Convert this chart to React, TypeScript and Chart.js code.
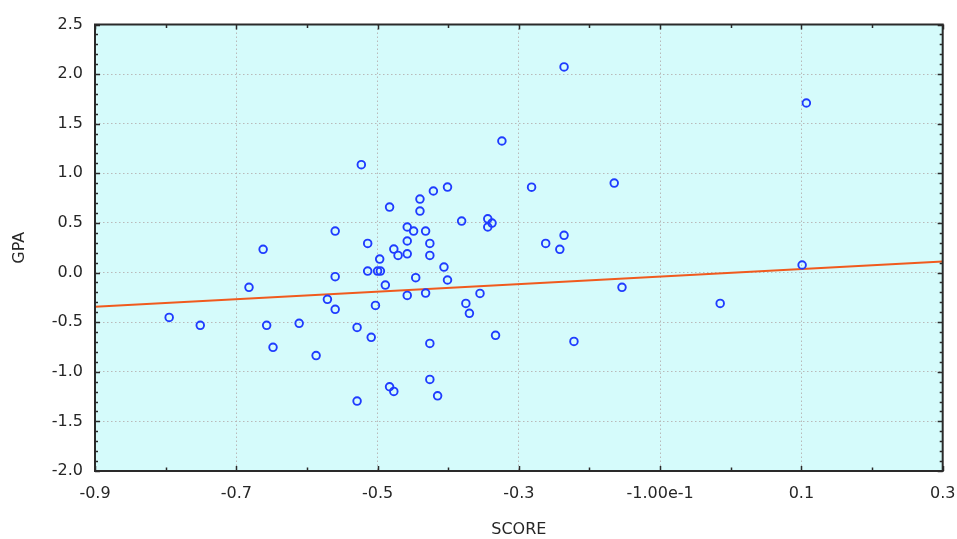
import React, { useEffect, useRef } from "react";
import { Chart, registerables } from "chart.js";

Chart.register(...registerables);

// ---- data ----
const scoreValues = [
  -0.795, -0.751, -0.682, -0.662, -0.657, -0.648, -0.611, -0.587,
  -0.571, -0.56, -0.56, -0.56, -0.529, -0.529, -0.523, -0.514, -0.514, -0.509,
  -0.503, -0.5, -0.496, -0.497, -0.489, -0.483, -0.483, -0.477, -0.477, -0.471,
  -0.458, -0.458, -0.458, -0.458, -0.449, -0.446, -0.44, -0.44, -0.432, -0.432,
  -0.426, -0.426, -0.426, -0.426, -0.421, -0.415, -0.406, -0.401, -0.401,
  -0.381, -0.375, -0.37, -0.355, -0.344, -0.338, -0.344, -0.333, -0.324,
  -0.282, -0.262, -0.242, -0.236, -0.236, -0.222, -0.165, -0.154, -0.015, 0.101, 0.107,
];
const gpaValues = [
  -0.452, -0.532, -0.149, 0.234, -0.532, -0.754, -0.512, -0.837,
  -0.27, 0.418, -0.042, -0.371, -0.553, -1.295, 1.087, 0.294, 0.015, -0.653,
  -0.331, 0.015, 0.015, 0.136, -0.126, 0.66, -1.151, 0.237, -1.198, 0.173,
  0.459, 0.318, 0.189, -0.23, 0.418, -0.052, 0.741, 0.62, 0.418, -0.207,
  0.294, 0.173, -0.714, -1.077, 0.822, -1.242, 0.055, 0.862, -0.075,
  0.519, -0.311, -0.411, -0.21, 0.542, 0.499, 0.459, -0.633, 1.326,
  0.86, 0.294, 0.234, 2.072, 0.375, -0.694, 0.902, -0.149, -0.311, 0.076, 1.709,
];
const fitScore = [-0.9, 0.3];
const fitGpa = [-0.345, 0.112];

const xTickValues = [-0.9, -0.7, -0.5, -0.3, -0.1, 0.1, 0.3];
const xTickLabels = ["-0.9", "-0.7", "-0.5", "-0.3", "-1.00e-1", "0.1", "0.3"];
const yTickValues = [-2.0, -1.5, -1.0, -0.5, 0.0, 0.5, 1.0, 1.5, 2.0, 2.5];
const yTickLabels = ["-2.0", "-1.5", "-1.0", "-0.5", "0.0", "0.5", "1.0", "1.5", "2.0", "2.5"];

const xTitle = "SCORE";
const yTitle = "GPA";

// ---- styles ----
const PLOT_BG = "#d5fbfb";
const FRAME = "#2a2a2a";
const GRID = "#b9b9b9";
const TEXT = "#262626";
const POINT = "#1f3cff";
const FIT = "#f05a1e";
const FONT = { family: "'DejaVu Sans', Verdana, sans-serif", size: 16 };

const labelFor = (vals: number[], labels: string[], v: number) => {
  let best = 0;
  for (let i = 0; i < vals.length; i++) {
    if (Math.abs(vals[i] - v) < Math.abs(vals[best] - v)) best = i;
  }
  return labels[best];
};

const framePlugin = {
  id: "frameAndTicks",
  beforeDraw(chart: any) {
    const { ctx, chartArea: a } = chart;
    ctx.save();
    ctx.fillStyle = PLOT_BG;
    ctx.fillRect(a.left, a.top, a.right - a.left, a.bottom - a.top);
    ctx.restore();
  },
  afterDraw(chart: any) {
    const { ctx, chartArea: a, scales } = chart;
    const xs = scales.x;
    const ys = scales.y;
    ctx.save();
    ctx.strokeStyle = FRAME;
    ctx.lineWidth = 1.5;
    ctx.beginPath();
    for (let i = 0; i <= 12; i++) {
      const v = xs.min + i * 0.1;
      const px = Math.round(xs.getPixelForValue(v)) + 0.5;
      const len = i % 2 === 0 ? 5 : 3.5;
      ctx.moveTo(px, a.bottom);
      ctx.lineTo(px, a.bottom - len);
      ctx.moveTo(px, a.top);
      ctx.lineTo(px, a.top + len);
    }
    for (let i = 0; i <= 45; i++) {
      const v = ys.min + i * 0.1;
      const py = Math.round(ys.getPixelForValue(v)) + 0.5;
      const len = i % 5 === 0 ? 5 : 3;
      ctx.moveTo(a.left, py);
      ctx.lineTo(a.left + len, py);
      ctx.moveTo(a.right, py);
      ctx.lineTo(a.right - len, py);
    }
    ctx.stroke();
    ctx.lineWidth = 2;
    ctx.strokeRect(a.left, a.top, a.right - a.left, a.bottom - a.top);
    ctx.restore();
  },
};

export default function App() {
  const ref = useRef<HTMLCanvasElement | null>(null);

  useEffect(() => {
    if (!ref.current) return;
    const points = scoreValues.map((x, i) => ({ x, y: gpaValues[i] }));
    const fit = fitScore.map((x, i) => ({ x, y: fitGpa[i] }));
    const chart = new Chart(ref.current, {
      type: "scatter",
      data: {
        datasets: [
          {
            type: "line",
            label: "fit",
            data: fit,
            borderColor: FIT,
            borderWidth: 2,
            pointRadius: 0,
            fill: false,
            order: 2,
          } as any,
          {
            label: "GPA vs SCORE",
            data: points,
            pointStyle: "circle",
            pointRadius: 3.8,
            pointBorderWidth: 1.9,
            borderColor: POINT,
            backgroundColor: "rgba(0,0,0,0)",
            pointBackgroundColor: "rgba(0,0,0,0)",
            order: 1,
          } as any,
        ],
      },
      options: {
        animation: false,
        responsive: false,
        devicePixelRatio: 1,
        layout: { padding: { left: 0, top: 24.5, right: 14.3, bottom: 0 } },
        plugins: {
          legend: { display: false },
          tooltip: { enabled: false },
        },
        scales: {
          x: {
            type: "linear",
            min: -0.9,
            max: 0.3,
            afterBuildTicks: (scale: any) => {
              scale.ticks = xTickValues.map((v) => ({ value: v }));
            },
            afterFit: (scale: any) => {
              scale.height = 68;
              scale.paddingLeft = 0;
              scale.paddingRight = 0;
            },
            grid: { color: GRID, lineWidth: 1, drawTicks: false },
            border: { display: false, dash: [1.5, 2.5] },
            ticks: {
              padding: 13,
              color: TEXT,
              font: FONT,
              maxRotation: 0,
              autoSkip: false,
              callback: (v: any) => labelFor(xTickValues, xTickLabels, Number(v)),
            },
            title: {
              display: true,
              text: xTitle,
              color: TEXT,
              font: FONT,
              padding: { top: 0, bottom: 0 },
            },
          },
          y: {
            type: "linear",
            min: -2.0,
            max: 2.5,
            afterBuildTicks: (scale: any) => {
              scale.ticks = yTickValues.map((v) => ({ value: v }));
            },
            afterFit: (scale: any) => {
              scale.width = 95;
              scale.paddingTop = 0;
              scale.paddingBottom = 0;
            },
            grid: { color: GRID, lineWidth: 1, drawTicks: false },
            border: { display: false, dash: [1.5, 2.5] },
            ticks: {
              padding: 12,
              color: TEXT,
              font: FONT,
              autoSkip: false,
              callback: (v: any) => labelFor(yTickValues, yTickLabels, Number(v)),
            },
            title: {
              display: true,
              text: yTitle,
              color: TEXT,
              font: FONT,
              padding: { top: 10, bottom: 0 },
            },
          },
        },
      },
      plugins: [framePlugin],
    });
    return () => chart.destroy();
  }, []);

  return (
    <div style={{ position: "fixed", left: 0, top: 0, width: 957, height: 539, background: "#fff" }}>
      <canvas ref={ref} width={957} height={539} style={{ display: "block" }} />
    </div>
  );
}
